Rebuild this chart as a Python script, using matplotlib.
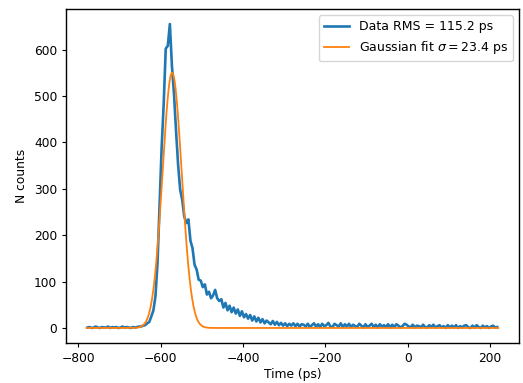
import numpy as np
import matplotlib
matplotlib.use("Agg")
import matplotlib.pyplot as plt

# histogram of arrival times, 5 ps bins from -780 to 220 ps
bin_lo = -780
bin_hi = 220
bin_w = 5

counts_flat = [1, 2, 0, 1, 3, 1, 0, 2, 1, 1, 3, 0, 2, 1, 2, 0, 1, 3, 1, 2,
               1, 0, 2, 1, 2, 3]
counts_peak = [3, 5, 6, 10, 13, 25, 38, 68, 140, 262,
               388, 482, 602, 608, 655, 565, 505, 425, 352, 298,
               276, 240, 226, 234, 188, 172, 136, 126, 104, 102,
               88, 94, 72, 78, 64, 70, 82, 64, 58, 62,
               44, 54, 38, 48, 34, 44, 31, 40, 26, 36,
               23, 30, 20, 28, 16, 25, 14, 22, 12, 19,
               10, 16, 12, 8, 15, 7, 13, 6, 11, 5,
               10, 4, 9, 5, 10, 4, 9, 3, 8]
counts_tail = [7, 3, 9, 2, 6, 10, 3, 8, 2, 9, 4, 6, 11, 3, 2, 9, 6, 3, 10, 2,
               8, 3, 9, 2, 7, 4, 2, 9, 5, 1, 8, 2, 5, 9, 2, 7, 1, 8, 3, 6,
               2, 8, 1, 7, 2, 8, 5, 1, 4, 9, 7, 3, 2, 7, 1, 5, 4, 1, 7, 2,
               1, 6, 2, 7, 1, 4, 6, 1, 4, 0, 6, 1, 5, 1, 6, 0, 4, 1, 5, 6,
               1, 0, 5, 1, 6, 2, 0, 5, 1, 4, 0, 3, 5, 1, 2]

# gaussian fit parameters
fit_amp = 550
fit_mu = -572
fit_sigma = 23.4
data_rms = 115.2

counts = np.array(counts_flat + counts_peak + counts_tail)
centers = np.arange(bin_lo, bin_hi, bin_w) + bin_w / 2

xfit = np.linspace(bin_lo, bin_hi, 2000)
yfit = fit_amp * np.exp(-(xfit - fit_mu) ** 2 / (2 * fit_sigma ** 2))

# reference looks like a shrunk default figure, so scale things down a bit
s = 0.88
plt.rcParams["font.size"] = 10 * s
plt.rcParams["axes.linewidth"] = 1.0
plt.rcParams["xtick.major.size"] = 3.5 * s
plt.rcParams["ytick.major.size"] = 3.5 * s
plt.rcParams["xtick.major.pad"] = 3.5 * s
plt.rcParams["ytick.major.pad"] = 3.5 * s

fig = plt.figure(figsize=(5.23, 3.83), dpi=100)
ax = fig.add_subplot(111)
fig.subplots_adjust(left=0.126, right=0.992, top=0.977, bottom=0.104)

ax.plot(centers, counts, lw=1.9, color="#1f77b4",
        label="Data RMS = %.1f ps" % data_rms)
ax.plot(xfit, yfit, lw=1.3, color="#ff7f0e",
        label=r"Gaussian fit $\sigma = %.1f$ ps" % fit_sigma)

ax.set_xlim(-830, 270)
ax.set_xlabel("Time (ps)", labelpad=2)
ax.set_ylabel("N counts")
ax.legend(loc="upper right", fontsize=9)

fig.savefig("out.png", dpi=100)
